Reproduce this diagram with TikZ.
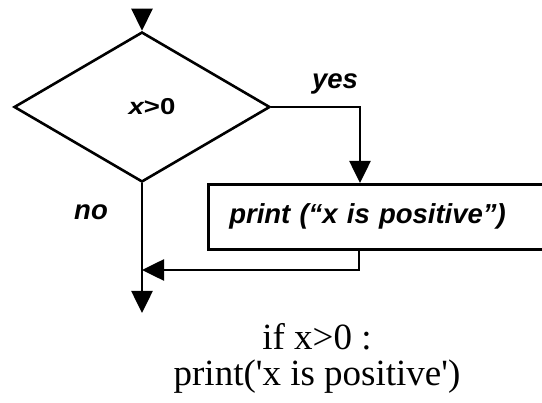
\documentclass[tikz,border=0pt]{standalone}
\usepackage{fontspec}
\setmainfont{Liberation Serif}
\newfontfamily\flowfont{Liberation Sans}
\newfontfamily\codefont{Liberation Serif}
\usetikzlibrary{shapes.geometric,arrows.meta}
\begin{document}
\begin{tikzpicture}[x=1pt,y=-1pt,
  line width=2.6pt,
  flowtext/.style={font=\flowfont\fontsize{27.5}{32}\selectfont\bfseries\itshape},
  arr/.style={-{Triangle[width=21pt,length=22pt]}},
  codetext/.style={font=\codefont\fontsize{37}{40}\selectfont, anchor=base, inner sep=0pt}]
\clip (0,0) rectangle (542,403);
\fill[white] (0,0) rectangle (542,403);
\node[draw, diamond, minimum width=256pt, minimum height=150pt, inner sep=0pt,
  font=\flowfont\fontsize{23}{26}\selectfont\bfseries] (cond) at (142,107)
  {\hspace*{20pt}\raisebox{-1pt}{\scalebox{1.2}[1]{\itshape x\upshape >0}}};
\node[draw, rectangle, anchor=north west, minimum height=65pt, text width=320pt, inner xsep=21pt, inner ysep=0pt, align=left, flowtext] (box) at (207,183) {print (\char"201Cx is positive\char"201D)};
\coordinate (start) at (142,9);
\coordinate (join) at (142,270);
\coordinate (end) at (142,313);
\draw[arr] (start) -- (cond.north);
\draw[arr] (cond.east) -| ([xshift=153pt]box.north west);
\draw[arr] (cond.south) -- (end);
\draw[arr] ([xshift=152pt]box.south west) |- (join);
\node[flowtext] (yes) at (335,84) {yes};
\node[flowtext] (no) at (91,212) {no};
\node[codetext] (code1) at (317,350) {if x>0 :};
\node[codetext] (code2) at (317,386) {print('x is positive')};
\end{tikzpicture}
\end{document}
